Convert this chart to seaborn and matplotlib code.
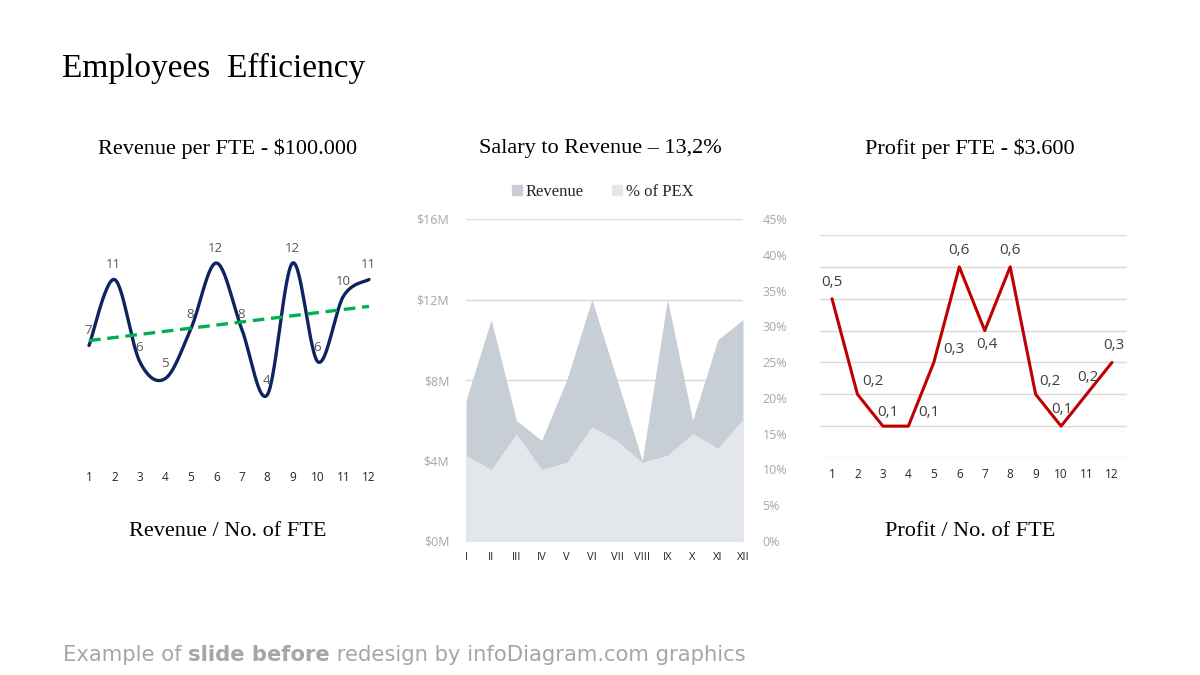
import matplotlib
matplotlib.use("Agg")
import matplotlib.pyplot as plt
import matplotlib.ticker as mticker
from matplotlib.lines import Line2D
import numpy as np
import seaborn as sns

# datos
meses_num = list(range(1, 13))
revenue_fte = [7, 11, 6, 5, 8, 12, 8, 4, 12, 6, 10, 11]

meses_romanos = ["I", "II", "III", "IV", "V", "VI", "VII", "VIII", "IX", "X", "XI", "XII"]
revenue_m = [7, 11, 6, 5, 8, 12, 8, 4, 12, 6, 10, 11]
pct_pex = [0.12, 0.10, 0.15, 0.10, 0.11, 0.16, 0.14, 0.11, 0.12, 0.15, 0.13, 0.17]

profit_fte = [0.5, 0.2, 0.1, 0.1, 0.3, 0.6, 0.4, 0.6, 0.2, 0.1, 0.2, 0.3]
profit_labels = ["0,5", "0,2", "0,1", "0,1", "0,3", "0,6", "0,4", "0,6", "0,2", "0,1", "0,2", "0,3"]

SERIF = "Liberation Serif"
SANS = "Open Sans"
GRIS_TXT = "#595959"

sns.set_theme(style="white")
plt.rcParams["font.family"] = [SANS, "DejaVu Sans"]

W, H = 1200, 675
fig = plt.figure(figsize=(12, 6.75), dpi=100)


def ejes_px(x0, y0, x1, y1):
    # caja en pixeles (origen arriba a la izquierda)
    return fig.add_axes([x0 / W, 1 - y1 / H, (x1 - x0) / W, (y1 - y0) / H])


def suavizar(x, y, n=30):
    # curva suavizada tipo Excel (bezier con tension 1/6)
    p = np.column_stack([x, y]).astype(float)
    p = np.vstack([p[0], p, p[-1]])
    xs, ys = [], []
    t = np.linspace(0, 1, n)
    for i in range(1, len(p) - 2):
        p0, p1, p2, p3 = p[i - 1], p[i], p[i + 1], p[i + 2]
        c1 = p1 + (p2 - p0) / 6
        c2 = p2 - (p3 - p1) / 6
        b = ((1 - t) ** 3)[:, None] * p1 + (3 * (1 - t) ** 2 * t)[:, None] * c1 \
            + (3 * (1 - t) * t ** 2)[:, None] * c2 + (t ** 3)[:, None] * p2
        xs.extend(b[:, 0])
        ys.extend(b[:, 1])
    return np.array(xs), np.array(ys)


# ---------- grafico izquierdo ----------
ax1 = ejes_px(75, 230, 383, 461)
sx, sy = suavizar(meses_num, revenue_fte)
sns.lineplot(x=sx, y=sy, sort=False, estimator=None, color="#0D2461", lw=2.4, ax=ax1)
sns.regplot(x=meses_num, y=revenue_fte, scatter=False, ci=None, truncate=True, ax=ax1,
            line_kws={"color": "#00B050", "lw": 2.4, "ls": (0, (3.5, 2))})
ax1.set_xlim(0.45, 12.55)
ax1.set_ylim(0, 14)
ax1.set_xticks(meses_num)
ax1.set_yticks([])
ax1.tick_params(axis="x", length=0, pad=7, labelsize=8.5, labelcolor="#262626")
for s in ax1.spines.values():
    s.set_visible(False)
for x, y in zip(meses_num, revenue_fte):
    ax1.annotate(str(y), (x, y), xytext=(-0.5, 10.5), textcoords="offset points",
                 ha="center", va="center", fontsize=9.5, color=GRIS_TXT)
ax1.set_xlabel("")

# ---------- grafico central ----------
ax2 = ejes_px(466, 219, 743, 541)
pos = np.arange(len(meses_romanos))
for v in [4, 8, 12, 16]:
    ax2.axhline(v, color="#D9D9D9", lw=1, zorder=0)
ax2.fill_between(pos, revenue_m, color="#C8CED6", lw=0, zorder=1)
ax2.set_xlim(0, 11)
ax2.set_ylim(0, 16)
ax2.set_yticks([0, 4, 8, 12, 16])
ax2.yaxis.set_major_formatter(mticker.FuncFormatter(lambda v, p: f"${v:.0f}M"))
ax2.set_xticks(pos)
ax2.set_xticklabels(meses_romanos)
ax2.tick_params(axis="y", length=0, pad=12, labelsize=9, labelcolor="#A6A6A6")
ax2.tick_params(axis="x", length=0, pad=8, labelsize=8, labelcolor="#262626")
ax2t = ax2.twinx()
ax2t.fill_between(pos, pct_pex, color="#E3E6EA", lw=0, zorder=2)
ax2t.set_ylim(0, 0.45)
ax2t.set_yticks(np.arange(0, 0.451, 0.05))
ax2t.yaxis.set_major_formatter(mticker.FuncFormatter(lambda v, p: f"{v * 100:.0f}%"))
ax2t.tick_params(axis="y", length=0, pad=14, labelsize=9, labelcolor="#A6A6A6")
for a in (ax2, ax2t):
    for s in a.spines.values():
        s.set_visible(False)
    a.grid(False)
ax2.set_xlim(0, 11)

handles = [Line2D([], [], marker="s", ls="", color="#C8CED6", markersize=7),
           Line2D([], [], marker="s", ls="", color="#E3E6EA", markersize=7)]
fig.legend(handles, ["Revenue", "% of PEX"], loc="center", bbox_to_anchor=(602 / W, 1 - 192 / H),
           ncol=2, frameon=False, handletextpad=0.1, columnspacing=1.6, handlelength=0.8,
           prop={"family": SERIF, "size": 12})

# ---------- grafico derecho ----------
ax3 = ejes_px(820, 235, 1127, 458)
for v in np.arange(0, 0.71, 0.1):
    ax3.axhline(v, color="#D9D9D9", lw=1, zorder=0)
sns.lineplot(x=meses_num, y=profit_fte, color="#C00000", lw=2.2, ax=ax3)
ax3.set_xlim(1 - 12 / 25.45, 12 + 15 / 25.45)
ax3.set_ylim(0, 0.7)
ax3.set_xticks(meses_num)
ax3.set_yticks([])
ax3.tick_params(axis="x", length=0, pad=7, labelsize=8.5, labelcolor="#262626")
for s in ax3.spines.values():
    s.set_visible(False)
offs3 = [(0, 12), (11, 9.5), (3.5, 10), (15, 10), (14.5, 9.5), (0, 11.5), (1.5, -10), (0, 11.5),
         (10, 9.5), (0.5, 12), (1, 12), (1, 12)]
for x, y, lab, (dx, dy) in zip(meses_num, profit_fte, profit_labels, offs3):
    ax3.annotate(lab, (x, y), xytext=(dx, dy), textcoords="offset points",
                 ha="center", va="center", fontsize=11, color="#404040")

# ---------- textos ----------
fig.text(62 / W, 1 - 68 / H, "Employees  Efficiency", family=SERIF, fontsize=24,
         va="center", ha="left", color="black")
for cx, txt in [(228, "Revenue per FTE - $100.000"), (600, "Salary to Revenue \u2013 13,2%"),
                (970, "Profit per FTE - $3.600")]:
    fig.text(cx / W, 1 - 149 / H, txt, family=SERIF, fontsize=16, ha="center", va="center",
             color="black")
for cx, txt in [(228, "Revenue / No. of FTE"), (970, "Profit / No. of FTE")]:
    fig.text(cx / W, 1 - 532 / H, txt, family=SERIF, fontsize=16, ha="center", va="center",
             color="black")

# pie de pagina con partes en negrita
renderer = fig.canvas.get_renderer()
x_px = 63
for parte, peso in [("Example of ", "normal"), ("slide before", "bold"),
                    (" redesign by infoDiagram.com graphics", "normal")]:
    t = fig.text(x_px / W, 1 - 655 / H, parte, family=["DejaVu Sans"], fontsize=15.2,
                 weight=peso, color="#A6A6A6", ha="left", va="center")
    x_px += t.get_window_extent(renderer).width

fig.savefig("out.png", dpi=100)
